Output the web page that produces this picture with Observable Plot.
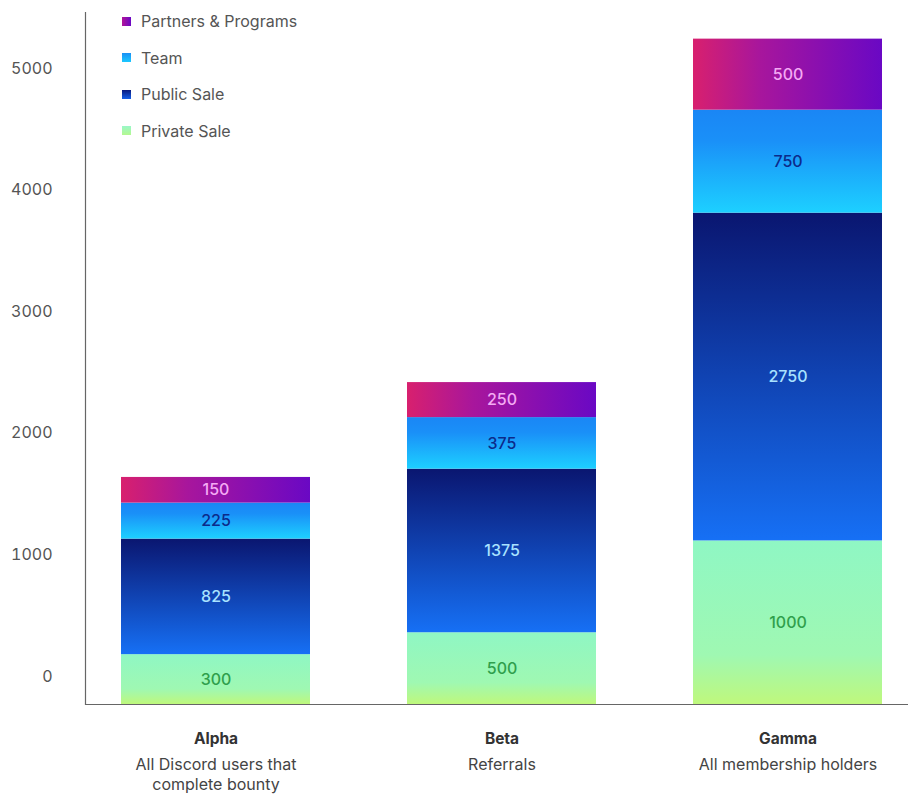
<!DOCTYPE html>
<html><head><meta charset="utf-8">
<script src="https://cdn.jsdelivr.net/npm/d3@7"></script>
<script src="https://cdn.jsdelivr.net/npm/@observablehq/plot@0.6"></script>
<style>
body{margin:0;background:#fff;font-family:Inter,"Noto Sans",sans-serif;}
#wrap{position:relative;width:908px;height:796px;}
#legend{position:absolute;left:122px;top:3px;font-size:16px;color:#555;}
.item{display:flex;align-items:center;height:36.5px;}
.sw{width:9px;height:9px;margin-right:10px;}
</style></head><body><div id="wrap"><div id="legend"></div></div>
<script>
const categories = ["Alpha", "Beta", "Gamma"];
const descriptions = ["All Discord users that\ncomplete bounty", "Referrals", "All membership holders"];
const seriesNames = ["Private Sale", "Public Sale", "Team", "Partners & Programs"];
// segment heights as drawn in the picture (y-axis units)
const privateSale = [410, 590, 1345];
const publicSale = [950, 1345, 2695];
const team = [296, 424, 847];
const partners = [211, 288, 584];
// numbers printed on the segments
const privateLabels = ["300", "500", "1000"];
const publicLabels = ["825", "1375", "2750"];
const teamLabels = ["225", "375", "750"];
const partnersLabels = ["150", "250", "500"];
const yTicks = [0, 1000, 2000, 3000, 4000, 5000];

const gradUrl = {"Private Sale": "url(#gPrivate)", "Public Sale": "url(#gPublic)", "Team": "url(#gTeam)", "Partners & Programs": "url(#gPartners)"};
const labelColor = {"Private Sale": "#2f9f4c", "Public Sale": "#a8e2ff", "Team": "#0c2a8a", "Partners & Programs": "#f4aaf4"};
const legendSwatch = {"Private Sale": "linear-gradient(#9af7c8,#b4f890)", "Public Sale": "linear-gradient(#0a1a80,#1660e8)", "Team": "linear-gradient(#1a90f5,#1cc8ff)", "Partners & Programs": "linear-gradient(90deg,#b0149a,#6a08c4)"};

const rows = [];
[[seriesNames[0], privateSale, privateLabels], [seriesNames[1], publicSale, publicLabels], [seriesNames[2], team, teamLabels], [seriesNames[3], partners, partnersLabels]]
  .forEach(([name, vals, labs]) => categories.forEach((c, i) => rows.push({category: c, series: name, value: vals[i], label: labs[i]})));

const chart = Plot.plot({
  width: 908, height: 796,
  marginLeft: 85, marginRight: 0, marginTop: 12, marginBottom: 92,
  style: {fontFamily: "Inter, 'Noto Sans', sans-serif", fontSize: "16px", color: "#555", background: "white"},
  x: {domain: categories, paddingInner: 0.339, paddingOuter: 0.108, align: 0.58, axis: null},
  y: {domain: [0, 5690]},
  color: {type: "identity"},
  marks: [
    Plot.barY(rows, Plot.stackY({x: "category", y: "value", z: "series", fill: d => gradUrl[d.series]})),
    Plot.text(rows, Plot.stackY({x: "category", y: "value", z: "series", text: "label", fill: d => labelColor[d.series], fontSize: 16, fontWeight: 500})),
    Plot.ruleY([0], {stroke: "#666", strokeWidth: 1.2}),
    Plot.frame({anchor: "left", stroke: "#666", strokeWidth: 1.2}),
    Plot.axisY(yTicks, {tickSize: 0, tickPadding: 33, dy: -28, tickFormat: d => String(d), label: null, fill: "#555", fontSize: 16}),
    Plot.text(categories, {x: d => d, frameAnchor: "bottom", dy: 39, text: d => d, fontWeight: 700, fill: "#333", fontSize: 15.5}),
    Plot.text(categories, {x: d => d, frameAnchor: "bottom", dy: 51, lineAnchor: "top", lineHeight: 1.25, text: (d, i) => descriptions[i], fill: "#444", fontSize: 16})
  ]
});

const svg = d3.select(chart);
const defs = svg.insert("defs", ":first-child");
function grad(id, horizontal, stops) {
  const g = defs.append("linearGradient").attr("id", id).attr("x1", 0).attr("y1", 0).attr("x2", horizontal ? 1 : 0).attr("y2", horizontal ? 0 : 1);
  stops.forEach(([o, c]) => g.append("stop").attr("offset", o).attr("stop-color", c));
}
grad("gPrivate", false, [[0, "#8ff7c4"], [0.7, "#9ff8b2"], [1, "#bff87c"]]);
grad("gPublic", false, [[0, "#0a1670"], [1, "#1670f5"]]);
grad("gTeam", false, [[0, "#1a86f5"], [0.3, "#1a90f8"], [1, "#1dd0ff"]]);
grad("gPartners", true, [[0, "#d8206e"], [0.35, "#a8169c"], [1, "#6a08c4"]]);

document.getElementById("wrap").prepend(chart);
const legend = d3.select("#legend");
["Partners & Programs", "Team", "Public Sale", "Private Sale"].forEach(name => {
  const it = legend.append("div").attr("class", "item");
  it.append("div").attr("class", "sw").style("background", legendSwatch[name]);
  it.append("span").text(name);
});
</script>
</body></html>
